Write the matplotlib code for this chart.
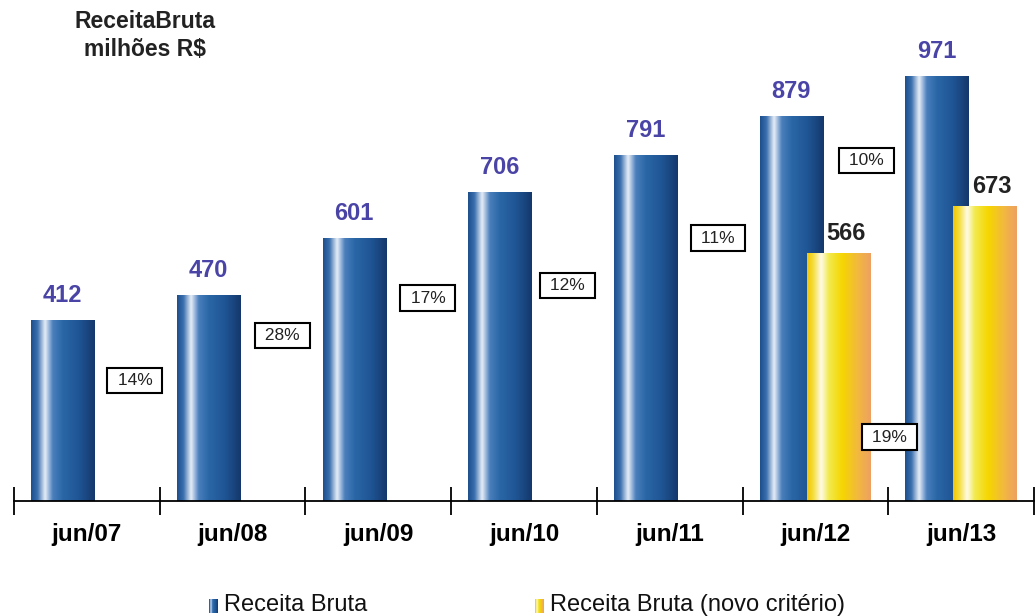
import numpy as np
import matplotlib.pyplot as plt
from matplotlib import font_manager
from matplotlib.colors import LinearSegmentedColormap

categories = ['jun/07', 'jun/08', 'jun/09', 'jun/10', 'jun/11', 'jun/12', 'jun/13']
receita_bruta = [412, 470, 601, 706, 791, 879, 971]
novo_criterio_cats = ['jun/12', 'jun/13']
novo_criterio = [566, 673]
growth_labels = ['14%', '28%', '17%', '12%', '11%', '10%', '19%']
# anchor (x in category units, y in data units) for each growth box
growth_pos = [(0.83, 276), (1.84, 379), (2.84, 464), (3.80, 493),
              (4.83, 601), (5.85, 779), (6.01, 146)]

names = {f.name for f in font_manager.fontManager.ttflist}
narrow = 'Liberation Sans Narrow' if 'Liberation Sans Narrow' in names else 'Liberation Sans'
plt.rcParams['font.family'] = ['Liberation Sans', 'DejaVu Sans']

blue_cmap = LinearSegmentedColormap.from_list('blue', [
    (0.00, '#1c4f8c'), (0.10, '#3a6fae'), (0.22, '#e8eef8'), (0.34, '#4a7fbc'),
    (0.50, '#2a66a6'), (0.75, '#1f5594'), (1.00, '#14386c')])
yellow_cmap = LinearSegmentedColormap.from_list('yellow', [
    (0.00, '#f2c400'), (0.10, '#f5df40'), (0.22, '#fffbe8'), (0.34, '#f2ea50'),
    (0.55, '#f6d600'), (0.80, '#f2b840'), (1.00, '#eea060')])
grad = np.linspace(0, 1, 256).reshape(1, -1)

fig = plt.figure(figsize=(10.35, 6.16), dpi=100)
ax = fig.add_axes([14 / 1035, 115 / 616, 1020 / 1035, 481 / 616])

bar_w = 0.435
off_blue = -0.165
off_yel = 0.162


def gradient_bar(ax, xc, h, cmap):
    ax.imshow(grad, cmap=cmap, extent=[xc - bar_w / 2, xc + bar_w / 2, 0, h],
              aspect='auto', interpolation='bicubic', zorder=2)


x = np.arange(len(categories)) + 0.5
for xi, v in zip(x, receita_bruta):
    gradient_bar(ax, xi + off_blue, v, blue_cmap)
    ax.text(xi + off_blue, v + 57, str(v), ha='center', va='center',
            fontsize=17, fontweight='bold', color='#4a44a6', zorder=4)

for cat, v in zip(novo_criterio_cats, novo_criterio):
    xi = categories.index(cat) + 0.5
    gradient_bar(ax, xi + off_yel, v, yellow_cmap)
    ax.text(xi + off_yel + 0.05, v + 46, str(v), ha='center', va='center',
            fontsize=17, fontweight='bold', color='#222222', zorder=4)

for lab, (px, py) in zip(growth_labels, growth_pos):
    ax.text(px, py, ' ' + lab + ' ', ha='center', va='center', fontsize=12.5,
            color='#222222', zorder=5,
            bbox=dict(boxstyle='square,pad=0.3', fc='white', ec='black', lw=1.5))

ax.set_xlim(0, len(categories))
ax.set_ylim(0, 1100)
for s in ['top', 'right', 'left']:
    ax.spines[s].set_visible(False)
ax.spines['bottom'].set_linewidth(1.3)
ax.set_yticks([])
ax.set_xticks(x)
ax.set_xticklabels(categories, fontsize=17.5, fontweight='bold', family=narrow)
ax.tick_params(axis='x', which='major', length=0, pad=16)
ax.set_xticks(np.arange(len(categories) + 1), minor=True)
ax.tick_params(axis='x', which='minor', direction='inout', length=20, width=1.3)

fig.text(145 / 1035, 1 - 21 / 616, 'ReceitaBruta', ha='center', va='center',
         fontsize=16.5, fontweight='bold', color='#222222')
fig.text(145 / 1035, 1 - 50 / 616, 'milhões R$', ha='center', va='center',
         fontsize=16.5, fontweight='bold', color='#222222')

# legend
leg_items = [(209, blue_cmap, 'Receita Bruta'), (535, yellow_cmap, 'Receita Bruta (novo critério)')]
for px, cmap, lab in leg_items:
    lax = fig.add_axes([px / 1035, 1 - 613 / 616, 9 / 1035, 14 / 616])
    lax.imshow(grad, cmap=cmap, aspect='auto')
    lax.axis('off')
    fig.text((px + 15) / 1035, 1 - 605 / 616, lab, ha='left', va='center',
             fontsize=17, family=narrow, color='#111111')

fig.savefig('out.png', dpi=100)
